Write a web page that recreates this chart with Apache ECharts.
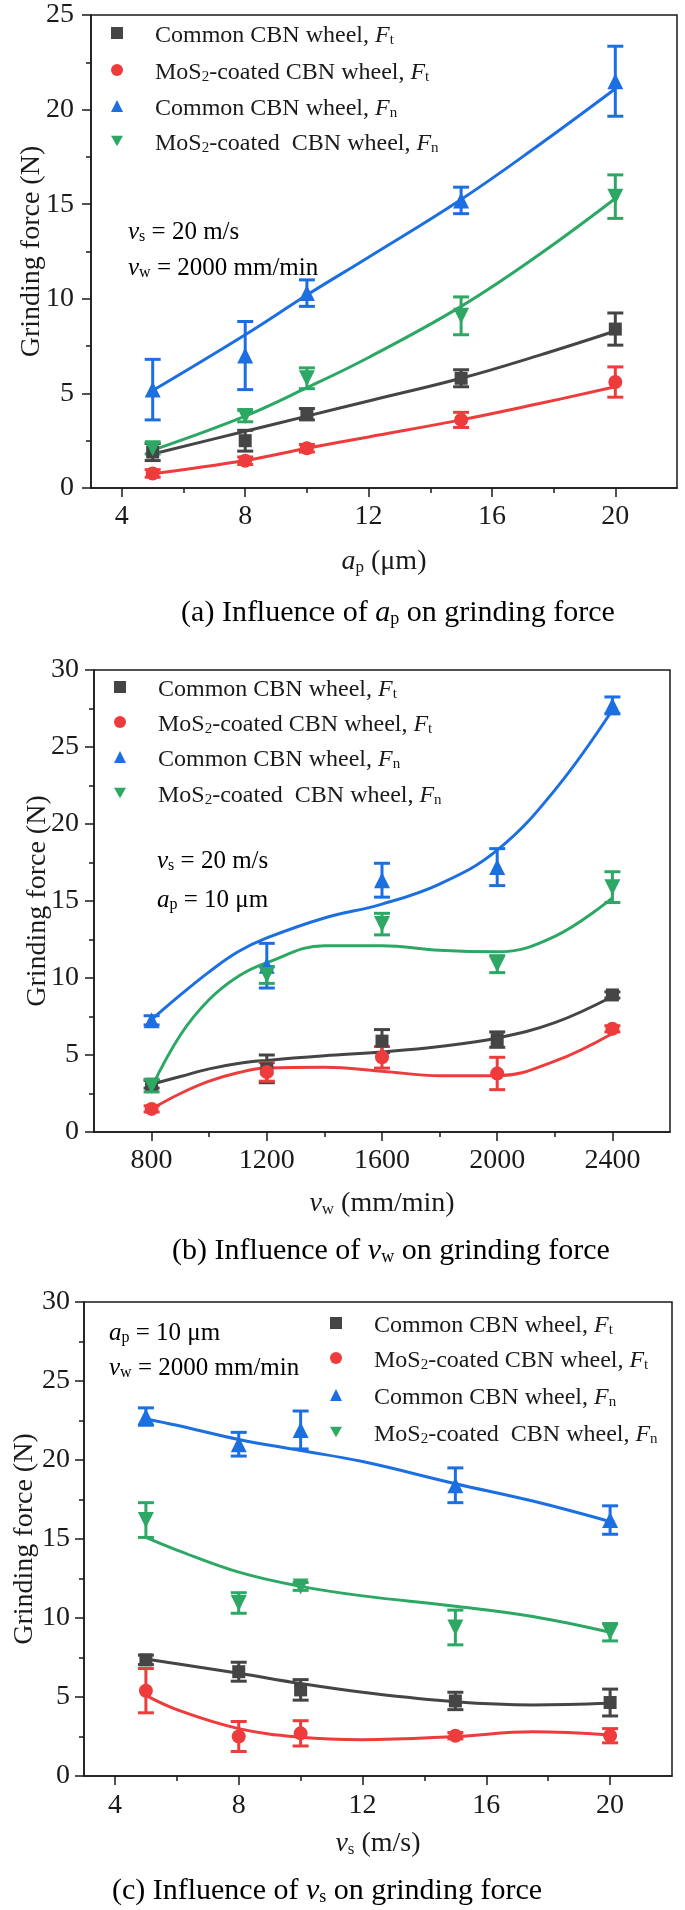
<!DOCTYPE html>
<html><head><meta charset="utf-8">
<script src="https://cdn.jsdelivr.net/npm/echarts@6/dist/echarts.min.js"></script>
<style>html,body{margin:0;padding:0;background:#fff}#c{width:685px;height:1910px}</style>
</head><body><div id="c"></div>
<script>
// ---------------- DATA ----------------
const seriesNames = ['Common CBN wheel, Ft', 'MoS2-coated CBN wheel, Ft', 'Common CBN wheel, Fn', 'MoS2-coated  CBN wheel, Fn'];

// (a) influence of ap
const apValues = [5, 8, 10, 15, 20];
const aCommonFt = [1.9, 2.5, 3.9, 5.8, 8.4];
const aCommonFtErr = [0.45, 0.55, 0.3, 0.45, 0.85];
const aCoatedFt = [0.77, 1.44, 2.1, 3.6, 5.6];
const aCoatedFtErr = [0.2, 0.2, 0.2, 0.4, 0.8];
const aCommonFn = [5.2, 7.0, 10.3, 15.2, 21.5];
const aCommonFnErr = [1.6, 1.8, 0.7, 0.7, 1.85];
const aCoatedFn = [2.1, 3.8, 5.8, 9.1, 15.4];
const aCoatedFnErr = [0.3, 0.3, 0.55, 1.0, 1.15];
const aFitX = [5, 8, 10, 12, 15, 17.5, 20];
const aFitCommonFt = [1.8, 3.0, 3.8, 4.6, 5.8, 7.0, 8.3];
const aFitCoatedFt = [0.75, 1.45, 2.1, 2.7, 3.6, 4.45, 5.35];
const aFitCommonFn = [5.15, 8.1, 10.2, 12.2, 15.25, 18.1, 21.1];
const aFitCoatedFn = [2.0, 3.8, 5.3, 6.9, 9.6, 12.3, 15.3];
const aXTicks = [4, 8, 12, 16, 20];
const aXMinorTicks = [6, 10, 14, 18];

// (b) influence of vw
const vwValues = [800, 1200, 1600, 2000, 2400];
const bCommonFt = [3.1, 4.1, 5.9, 6.0, 8.9];
const bCommonFtErr = [0.25, 0.9, 0.75, 0.5, 0.2];
const bCoatedFt = [1.5, 3.9, 4.85, 3.8, 6.7];
const bCoatedFtErr = [0.2, 0.6, 0.7, 1.05, 0.2];
const bCommonFn = [7.25, 10.8, 16.35, 17.2, 27.7];
const bCommonFnErr = [0.3, 1.45, 1.1, 1.2, 0.55];
const bCoatedFn = [3.0, 10.2, 13.5, 10.9, 15.9];
const bCoatedFnErr = [0.4, 0.55, 0.7, 0.55, 1.0];
const bFitX = [800, 900, 1000, 1100, 1200, 1400, 1600, 1800, 2000, 2200, 2400];
const bFitCommonFt = [3.1, 3.6, 4.1, 4.45, 4.65, 4.95, 5.2, 5.55, 6.1, 7.1, 8.8];
const bFitCoatedFt = [1.5, 2.5, 3.3, 3.85, 4.15, 4.2, 3.95, 3.65, 3.65, 4.6, 6.4];
const bFitCommonFn = [7.3, 8.9, 10.4, 11.7, 12.6, 13.9, 14.8, 16.1, 18.3, 22.2, 27.4];
const bFitCoatedFn = [2.9, 6.3, 8.6, 10.1, 11.0, 12.1, 12.1, 11.8, 11.7, 12.7, 15.2];
const bXTicks = [800, 1200, 1600, 2000, 2400];
const bXMinorTicks = [1000, 1400, 1800, 2200];

// (c) influence of vs
const vsValues = [5, 8, 10, 15, 20];
const cCommonFt = [7.35, 6.6, 5.45, 4.75, 4.65];
const cCommonFtErr = [0.3, 0.6, 0.65, 0.55, 0.85];
const cCoatedFt = [5.4, 2.5, 2.7, 2.55, 2.55];
const cCoatedFtErr = [1.4, 0.95, 0.8, 0.2, 0.45];
const cCommonFn = [22.75, 21.0, 21.9, 18.4, 16.2];
const cCommonFnErr = [0.55, 0.75, 1.2, 1.1, 0.9];
const cCoatedFn = [16.2, 10.95, 12.0, 9.4, 9.1];
const cCoatedFnErr = [1.1, 0.65, 0.25, 1.1, 0.55];
const cFitX = [5, 6, 8, 10, 12, 15, 17.5, 20];
const cFitCommonFt = [7.4, 7.1, 6.5, 5.85, 5.3, 4.7, 4.5, 4.6];
const cFitCoatedFt = [5.1, 4.2, 3.0, 2.45, 2.3, 2.5, 2.8, 2.6];
const cFitCommonFn = [22.6, 22.2, 21.3, 20.6, 19.9, 18.5, 17.4, 16.1];
const cFitCoatedFn = [15.1, 14.3, 12.9, 12.0, 11.4, 10.75, 10.1, 9.1];
const cXTicks = [4, 8, 12, 16, 20];
const cXMinorTicks = [6, 10, 14, 18];

// ---------------- STYLE ----------------
const FONT = "'Liberation Serif','Times New Roman',serif";
const INK = '#1a1a1a';
const COLORS = ['#454545', '#ee3b3b', '#1c6fe0', '#2ca864'];
const SYMBOLS = ['rect', 'circle', 'triangle', 'path://M0,0L12,0L6,10.4Z'];
const SIZES = [13, 14, 16, 16];

function richSet(size, color) {
  return {
    n: {fontFamily: FONT, fontSize: size, lineHeight: size + 6, verticalAlign: 'bottom', color: color},
    i: {fontFamily: FONT, fontSize: size, lineHeight: size + 6, verticalAlign: 'bottom', fontStyle: 'italic', color: color},
    s: {fontFamily: FONT, fontSize: Math.round(size * 0.62), lineHeight: Math.round(size * 0.6), verticalAlign: 'bottom', color: color}
  };
}
const legendRich = {
  n: {verticalAlign: 'bottom'},
  i: {fontStyle: 'italic', verticalAlign: 'bottom'},
  s: {fontSize: 15, lineHeight: 14, verticalAlign: 'bottom'},
  g: {width: 27, verticalAlign: 'bottom'}
};
const legendLabels = {};
legendLabels[seriesNames[0]] = '{g| }{n|Common CBN wheel, }{i|F}{s|t}';
legendLabels[seriesNames[1]] = '{g| }{n|MoS}{s|2}{n|-coated CBN wheel, }{i|F}{s|t}';
legendLabels[seriesNames[2]] = '{g| }{n|Common CBN wheel, }{i|F}{s|n}';
legendLabels[seriesNames[3]] = '{g| }{n|MoS}{s|2}{n|-coated  CBN wheel, }{i|F}{s|n}';

const panels = [
  {
    x: apValues,
    vals: [aCommonFt, aCoatedFt, aCommonFn, aCoatedFn],
    errs: [aCommonFtErr, aCoatedFtErr, aCommonFnErr, aCoatedFnErr],
    fitX: aFitX, fits: [aFitCommonFt, aFitCoatedFt, aFitCommonFn, aFitCoatedFn],
    grid: {left: 91, top: 15, width: 586, height: 473},
    xMin: 3, xMax: 22, yMax: 25, xTicks: aXTicks, xMinor: aXMinorTicks,
    xName: '{i|a}{s|p}{n| (μm)}', xGap: 54, yGap: 45, xLabelMargin: 15, yLabelMargin: 17,
    legendLeft: 111, legendRows: [33, 70, 106, 141],
    notes: [['{i|v}{s|s}{n| = 20 m/s}', 128, 229], ['{i|v}{s|w}{n| = 2000 mm/min}', 128, 265]],
    caption: ['{k|(a) }{b|Influence of }{bi|a}{bs|p}{b| on grinding force}', 398, 610]
  },
  {
    x: vwValues,
    vals: [bCommonFt, bCoatedFt, bCommonFn, bCoatedFn],
    errs: [bCommonFtErr, bCoatedFtErr, bCommonFnErr, bCoatedFnErr],
    fitX: bFitX, fits: [bFitCommonFt, bFitCoatedFt, bFitCommonFn, bFitCoatedFn],
    grid: {left: 94, top: 670, width: 576, height: 462},
    xMin: 600, xMax: 2600, yMax: 30, xTicks: bXTicks, xMinor: bXMinorTicks,
    xName: '{i|v}{s|w}{n| (mm/min)}', xGap: 52, yGap: 42, xLabelMargin: 15, yLabelMargin: 15,
    legendLeft: 114, legendRows: [687, 722, 757, 793],
    notes: [['{i|v}{s|s}{n| = 20 m/s}', 157, 858], ['{i|a}{s|p}{n| = 10 μm}', 157, 897]],
    caption: ['{k|(b) }{b|Influence of }{bi|v}{bs|w}{b| on grinding force}', 391, 1248]
  },
  {
    x: vsValues,
    vals: [cCommonFt, cCoatedFt, cCommonFn, cCoatedFn],
    errs: [cCommonFtErr, cCoatedFtErr, cCommonFnErr, cCoatedFnErr],
    fitX: cFitX, fits: [cFitCommonFt, cFitCoatedFt, cFitCommonFn, cFitCoatedFn],
    grid: {left: 84, top: 1302, width: 588, height: 474},
    xMin: 3, xMax: 22, yMax: 30, xTicks: cXTicks, xMinor: cXMinorTicks,
    xName: '{i|v}{s|s}{n| (m/s)}', xGap: 48, yGap: 45, xLabelMargin: 16, yLabelMargin: 14,
    legendLeft: 330, legendRows: [1323, 1358, 1395, 1432],
    notes: [['{i|a}{s|p}{n| = 10 μm}', 109, 1330], ['{i|v}{s|w}{n| = 2000 mm/min}', 109, 1365]],
    caption: ['{k|(c) }{b|Influence of }{bi|v}{bs|s}{b| on grinding force}', 327, 1888]
  }
];

const grids = [], xAxes = [], yAxes = [], series = [], legends = [], graphics = [];
const capRich = {
  k: {fontFamily: FONT, fontSize: 30, lineHeight: 36, verticalAlign: 'bottom', color: '#111'},
  b: {fontFamily: FONT, fontSize: 30, lineHeight: 36, verticalAlign: 'bottom', color: '#1414ee'},
  bi: {fontFamily: FONT, fontSize: 30, lineHeight: 36, verticalAlign: 'bottom', fontStyle: 'italic', color: '#1414ee'},
  bs: {fontFamily: FONT, fontSize: 18, lineHeight: 19, verticalAlign: 'bottom', color: '#1414ee'}
};

panels.forEach(function (p, k) {
  grids.push(Object.assign({show: true, borderColor: INK, borderWidth: 1.5, backgroundColor: 'transparent', containLabel: false, outerBoundsMode: 'none'}, p.grid));
  xAxes.push({
    type: 'value', gridIndex: k, min: p.xMin, max: p.xMax,
    axisLine: {show: true, onZero: false, lineStyle: {color: INK, width: 1.5}},
    axisTick: {show: true, inside: false, length: 9, lineStyle: {color: INK, width: 1.5}, customValues: p.xTicks},
    axisLabel: {show: true, margin: p.xLabelMargin, fontFamily: FONT, fontSize: 28, color: INK, customValues: p.xTicks,
      formatter: function (v) { return String(v); }},
    splitLine: {show: false},
    name: p.xName, nameLocation: 'middle', nameGap: p.xGap,
    nameTextStyle: {rich: richSet(28, INK)}
  });
  yAxes.push({
    type: 'value', gridIndex: k, min: 0, max: p.yMax, interval: 5,
    axisLine: {show: true, onZero: false, lineStyle: {color: INK, width: 1.5}},
    axisTick: {show: true, inside: false, length: 9, lineStyle: {color: INK, width: 1.5}},
    minorTick: {show: true, splitNumber: 2, length: 5, lineStyle: {color: INK, width: 1.5}},
    axisLabel: {show: true, margin: p.yLabelMargin, fontFamily: FONT, fontSize: 28, color: INK,
      formatter: function (v) { return String(v); }},
    splitLine: {show: false}, minorSplitLine: {show: false},
    name: 'Grinding force (N)', nameLocation: 'middle', nameGap: p.yGap, nameRotate: 90,
    nameMoveOverlap: false,
    nameTextStyle: {fontFamily: FONT, fontSize: 28, color: INK}
  });
  // one legend block per row so each row sits exactly where the reference has it
  seriesNames.forEach(function (nm, j) {
    legends.push({
      data: [nm], orient: 'vertical', left: p.legendLeft, top: p.legendRows[j] - 15,
      padding: 0, itemGap: 0, itemWidth: 12, itemHeight: 12, selectedMode: false,
      formatter: function (name) { return legendLabels[name]; },
      textStyle: {fontFamily: FONT, fontSize: 24, lineHeight: 30, color: INK, rich: legendRich}
    });
  });
  p.notes.forEach(function (n) {
    graphics.push({type: 'text', x: n[1], y: n[2], z: 10,
      style: {text: n[0], rich: richSet(25, INK), align: 'left', verticalAlign: 'middle', fontFamily: FONT, fontSize: 25}});
  });
  graphics.push({type: 'text', x: p.caption[1], y: p.caption[2], z: 10,
    style: {text: p.caption[0], rich: capRich, align: 'center', verticalAlign: 'middle', fontFamily: FONT, fontSize: 30}});
});

// minor x ticks (extra tick-only axes)
panels.forEach(function (p, k) {
  xAxes.push({
    type: 'value', gridIndex: k, min: p.xMin, max: p.xMax, position: 'bottom',
    axisLine: {show: false, onZero: false},
    axisTick: {show: true, inside: false, length: 5, lineStyle: {color: INK, width: 1.5}, customValues: p.xMinor},
    axisLabel: {show: false}, splitLine: {show: false}
  });
});

panels.forEach(function (p, k) {
  p.fits.forEach(function (f, j) {
    series.push({
      type: 'line', name: 'fit-' + k + '-' + j, xAxisIndex: k, yAxisIndex: k,
      data: p.fitX.map(function (xv, i) { return [xv, f[i]]; }),
      smooth: 0.4, showSymbol: false, symbol: 'none', z: 2, silent: true,
      lineStyle: {color: COLORS[j], width: 3}
    });
  });
  p.vals.forEach(function (v, j) {
    const e = p.errs[j];
    series.push({
      type: 'custom', name: 'err-' + k + '-' + j, xAxisIndex: k, yAxisIndex: k, z: 3, silent: true,
      data: p.x.map(function (xv, i) { return [xv, v[i] - e[i], v[i] + e[i]]; }),
      encode: {x: 0, y: [1, 2]},
      renderItem: function (params, api) {
        const top = api.coord([api.value(0), api.value(2)]);
        const bot = api.coord([api.value(0), api.value(1)]);
        const w = 8;
        const st = {stroke: COLORS[j], lineWidth: 3};
        return {type: 'group', children: [
          {type: 'line', shape: {x1: top[0], y1: top[1], x2: bot[0], y2: bot[1]}, style: st},
          {type: 'line', shape: {x1: top[0] - w, y1: top[1], x2: top[0] + w, y2: top[1]}, style: st},
          {type: 'line', shape: {x1: bot[0] - w, y1: bot[1], x2: bot[0] + w, y2: bot[1]}, style: st}
        ]};
      }
    });
  });
  p.vals.forEach(function (v, j) {
    series.push({
      type: 'scatter', name: seriesNames[j], xAxisIndex: k, yAxisIndex: k, z: 4,
      data: p.x.map(function (xv, i) { return [xv, v[i]]; }),
      symbol: SYMBOLS[j], symbolSize: SIZES[j],
      itemStyle: {color: COLORS[j], opacity: 1}
    });
  });
});

const chart = echarts.init(document.getElementById('c'), null, {renderer: 'canvas'});
chart.setOption({
  animation: false,
  backgroundColor: '#ffffff',
  grid: grids, xAxis: xAxes, yAxis: yAxes, legend: legends,
  graphic: graphics, series: series
});
</script></body></html>
